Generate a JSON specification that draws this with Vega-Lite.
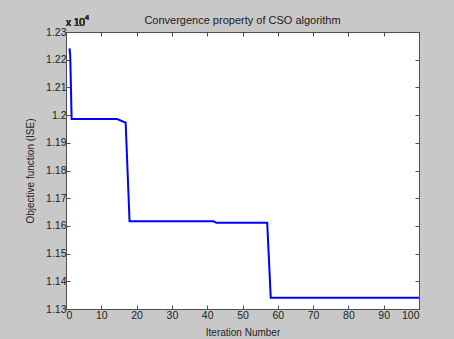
{
  "$schema": "https://vega.github.io/schema/vega-lite/v6.json",
  "width": 353,
  "height": 277,
  "autosize": {"type": "none"},
  "padding": {"left": 66, "top": 32, "right": 35, "bottom": 30},
  "background": "#c8c8c8",
  "config": {
    "view": {"fill": "white", "stroke": null},
    "font": "Liberation Sans",
    "axis": {
      "grid": false,
      "domainColor": "#4d4d4d",
      "domainWidth": 1,
      "tickColor": "#4d4d4d",
      "tickSize": -4,
      "labelColor": "#222222",
      "labelFontSize": 10.5,
      "labelFont": "Liberation Sans",
      "titleFont": "Liberation Sans",
      "titleFontSize": 10,
      "titleFontWeight": "normal",
      "titleColor": "#222222"
    }
  },
  "title": {
    "text": "Convergence property of CSO algorithm",
    "fontSize": 11,
    "fontWeight": "normal",
    "color": "#1a1a1a",
    "font": "Liberation Sans",
    "offset": -12,
    "anchor": "middle"
  },
  "data": {
    "values": [
      {"iteration": 1, "objective": 12241},
      {"iteration": 1.2, "objective": 12215},
      {"iteration": 1.6, "objective": 11986},
      {"iteration": 14.5, "objective": 11986},
      {"iteration": 16.7, "objective": 11974},
      {"iteration": 16.9, "objective": 11973},
      {"iteration": 18, "objective": 11617},
      {"iteration": 41.8, "objective": 11617},
      {"iteration": 42.6, "objective": 11611},
      {"iteration": 57, "objective": 11611},
      {"iteration": 58, "objective": 11341},
      {"iteration": 100, "objective": 11341}
    ]
  },
  "layer": [
    {
      "mark": {"type": "line", "color": "#0000ff", "strokeWidth": 2, "clip": true},
      "encoding": {
        "x": {
          "field": "iteration", "type": "quantitative",
          "scale": {"domain": [0, 100], "nice": false},
          "axis": {
            "orient": "bottom",
            "values": [0, 10, 20, 30, 40, 50, 60, 70, 80, 90, 100],
            "labelPadding": 5,
            "title": "Iteration Number",
            "titleX": 176.5,
            "titleY": 23,
            "titleBaseline": "middle"
          }
        },
        "y": {
          "field": "objective", "type": "quantitative",
          "scale": {"domain": [11300, 12300], "nice": false, "zero": false},
          "axis": {
            "orient": "left",
            "values": [11300, 11400, 11500, 11600, 11700, 11800, 11900, 12000, 12100, 12200, 12300],
            "labelExpr": "format(datum.value / 10000, '.3~r')",
            "labelPadding": 4,
            "title": "Objective function (ISE)",
            "titleAngle": -90,
            "titleX": -36,
            "titleY": 138.5,
            "titleAlign": "center",
            "titleBaseline": "middle"
          }
        }
      }
    },
    {
      "mark": {"type": "line", "strokeOpacity": 0},
      "encoding": {
        "x": {
          "field": "iteration", "type": "quantitative",
          "axis": {
            "orient": "top",
            "values": [0, 10, 20, 30, 40, 50, 60, 70, 80, 90, 100],
            "labels": false,
            "title": null
          }
        },
        "y": {
          "field": "objective", "type": "quantitative",
          "axis": {
            "orient": "right",
            "values": [11300, 11400, 11500, 11600, 11700, 11800, 11900, 12000, 12100, 12200, 12300],
            "labels": false,
            "title": null
          }
        }
      }
    },
    {
      "mark": {"type": "text", "text": "x 10", "align": "left", "baseline": "middle", "dx": 0, "dy": -9, "fontSize": 10, "fontWeight": "normal", "color": "#333333"},
      "encoding": {
        "x": {"datum": 0, "type": "quantitative", "axis": null},
        "y": {"datum": 12300, "type": "quantitative", "axis": null}
      }
    },
    {
      "mark": {"type": "text", "text": "4", "align": "left", "baseline": "middle", "dx": 19, "dy": -14, "fontSize": 7, "fontWeight": "normal", "color": "#333333"},
      "encoding": {
        "x": {"datum": 0, "type": "quantitative", "axis": null},
        "y": {"datum": 12300, "type": "quantitative", "axis": null}
      }
    }
  ],
  "resolve": {"axis": {"x": "independent", "y": "independent"}}
}
